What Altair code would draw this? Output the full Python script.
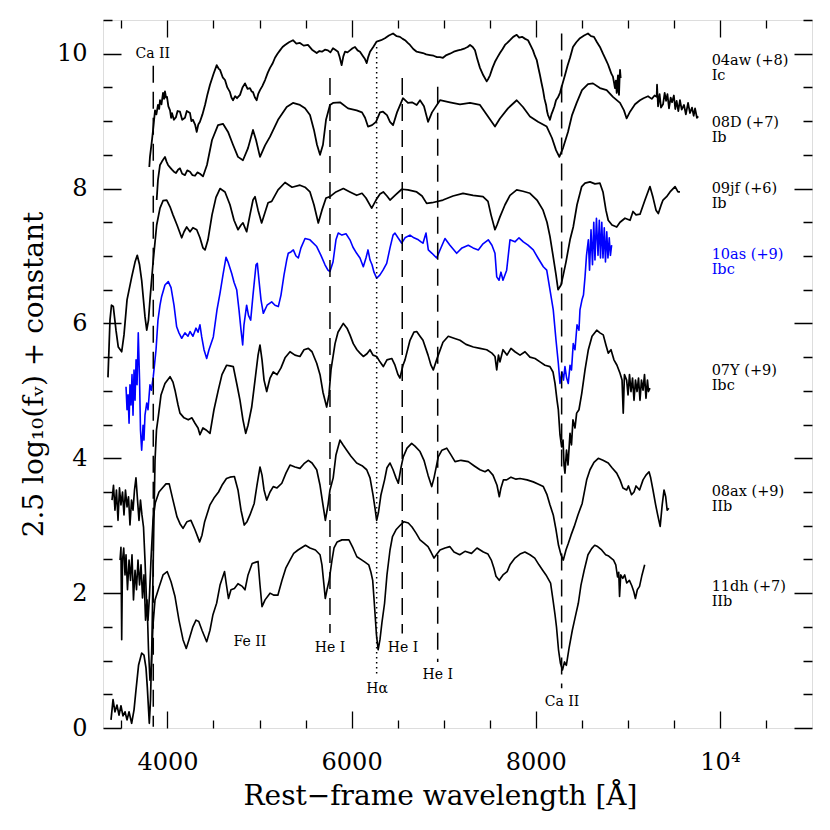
import altair as alt
import pandas as pd

# ---------------- data ----------------
SN04aw = [(3803,8.32),(3810,8.47),(3832,8.72),(3850,8.95),(3865,9.16),(3880,9.10),(3897,9.24),(3910,9.18),(3919,9.31),(3935,9.25),(3952,9.42),(3963,9.33),(3973,9.44),(3985,9.35),(3995,9.36),(4010,9.22),(4028,9.16),(4040,9.05),(4049,9.12),(4070,9.02),(4093,9.06),(4110,9.15),(4136,9.14),(4160,9.02),(4190,9.05),(4210,9.15),(4245,9.12),(4260,9.00),(4277,9.02),(4300,8.95),(4318,8.84),(4335,8.95),(4353,8.99),(4380,9.10),(4408,9.24),(4435,9.40),(4462,9.54),(4500,9.70),(4535,9.83),(4555,9.78),(4571,9.76),(4600,9.65),(4625,9.61),(4650,9.50),(4679,9.43),(4695,9.35),(4712,9.31),(4735,9.37),(4755,9.34),(4788,9.39),(4815,9.50),(4842,9.56),(4870,9.48),(4896,9.49),(4915,9.44),(4929,9.43),(4950,9.35),(4969,9.31),(4985,9.40),(5005,9.46),(5030,9.52),(5060,9.61),(5090,9.72),(5114,9.79),(5140,9.85),(5168,9.94),(5195,10.00),(5222,10.05),(5250,10.10),(5277,10.13),(5320,10.17),(5363,10.20),(5400,10.15),(5439,10.16),(5480,10.12),(5526,10.13),(5570,10.06),(5621,10.01),(5650,10.04),(5678,10.03),(5710,10.06),(5743,10.05),(5770,10.02),(5798,10.08),(5830,10.05),(5852,10.03),(5870,9.95),(5892,9.83),(5910,9.96),(5928,10.03),(5955,10.02),(5982,10.05),(6010,10.08),(6037,10.10),(6065,10.05),(6091,10.03),(6120,9.97),(6145,9.92),(6164,9.86),(6180,9.95),(6200,10.03),(6235,10.10),(6272,10.18),(6320,10.20),(6362,10.23),(6405,10.27),(6450,10.30),(6490,10.26),(6525,10.25),(6555,10.22),(6580,10.20),(6610,10.16),(6634,10.13),(6670,10.07),(6707,10.03),(6740,10.02),(6775,10.01),(6810,9.99),(6851,9.98),(6890,9.97),(6927,9.95),(6960,9.95),(6992,9.94),(7030,9.98),(7068,10.00),(7110,10.03),(7155,10.05),(7190,10.06),(7231,10.08),(7260,10.10),(7286,10.13),(7315,10.10),(7340,10.05),(7365,9.92),(7394,9.79),(7430,9.68),(7467,9.59),(7485,9.63),(7503,9.68),(7530,9.79),(7557,9.88),(7585,9.95),(7611,10.01),(7640,10.07),(7666,10.13),(7690,10.16),(7720,10.20),(7755,10.25),(7793,10.28),(7820,10.24),(7851,10.25),(7885,10.22),(7916,10.20),(7945,10.12),(7970,10.05),(7990,9.97),(8010,9.91),(8030,9.78),(8046,9.68),(8062,9.57),(8079,9.46),(8095,9.33),(8112,9.24),(8122,9.15),(8133,9.09),(8145,9.05),(8154,9.02),(8170,9.10),(8187,9.16),(8203,9.22),(8220,9.31),(8240,9.35),(8263,9.42),(8290,9.55),(8317,9.68),(8345,9.82),(8372,9.94),(8390,10.03),(8404,10.10),(8440,10.17),(8480,10.23),(8525,10.27),(8567,10.30),(8600,10.26),(8632,10.25),(8665,10.17),(8697,10.10),(8730,10.00),(8762,9.91),(8785,9.84),(8806,9.76),(8822,9.70),(8838,9.66),(8850,9.57),(8860,9.49),(8870,9.60),(8879,9.42),(8887,9.58),(8893,9.68),(8899,9.45),(8904,9.39),(8910,9.62),(8915,9.76),(8922,9.64)]

SN08D = [(3883,7.83),(3897,8.13),(3919,8.35),(3940,8.40),(3973,8.47),(3990,8.40),(4006,8.35),(4030,8.31),(4049,8.28),(4070,8.25),(4093,8.23),(4115,8.28),(4136,8.30),(4160,8.22),(4190,8.20),(4215,8.27),(4245,8.25),(4270,8.20),(4299,8.19),(4325,8.24),(4353,8.22),(4386,8.18),(4429,8.35),(4484,8.72),(4549,8.94),(4603,8.96),(4658,8.84),(4712,8.65),(4766,8.47),(4820,8.42),(4875,8.60),(4929,8.87),(4962,8.72),(5005,8.47),(5060,8.64),(5114,8.77),(5201,9.02),(5295,9.21),(5363,9.27),(5439,9.24),(5494,9.19),(5548,9.09),(5591,8.87),(5624,8.65),(5657,8.50),(5689,8.65),(5722,9.02),(5765,9.24),(5798,9.27),(5874,9.28),(5961,9.19),(6055,9.16),(6113,9.13),(6146,9.05),(6178,8.92),(6222,8.94),(6265,8.99),(6308,9.13),(6341,9.14),(6384,9.09),(6417,8.99),(6450,8.94),(6493,9.13),(6558,9.34),(6612,9.27),(6656,9.28),(6707,9.24),(6743,9.31),(6786,9.22),(6830,8.99),(6873,9.13),(6960,9.31),(7068,9.28),(7177,9.25),(7286,9.27),(7394,9.24),(7470,9.09),(7557,8.92),(7611,9.04),(7698,9.19),(7793,9.31),(7861,9.21),(7937,9.07),(8024,8.99),(8119,8.92),(8176,8.75),(8220,8.57),(8256,8.47),(8296,8.60),(8350,8.84),(8394,9.09),(8444,9.27),(8502,9.46),(8567,9.55),(8621,9.56),(8697,9.49),(8770,9.46),(8838,9.36),(8915,9.27),(8958,9.16),(8987,9.04),(9024,9.14),(9078,9.25),(9132,9.31),(9170,9.34),(9219,9.37),(9260,9.33),(9290,9.38),(9313,9.36),(9317,9.54),(9328,9.22),(9345,9.40),(9360,9.20),(9382,9.25),(9400,9.42),(9415,9.30),(9430,9.40),(9447,9.19),(9465,9.35),(9480,9.28),(9500,9.38),(9515,9.18),(9530,9.30),(9548,9.15),(9566,9.31),(9585,9.17),(9610,9.24),(9630,9.10),(9654,9.27),(9675,9.12),(9697,9.20),(9715,9.08),(9730,9.19),(9750,9.05),(9765,9.07)]

SN09jf = [(3354,5.20),(3376,6.05),(3392,6.27),(3412,6.25),(3441,5.90),(3466,5.65),(3503,5.58),(3528,5.83),(3561,6.35),(3612,6.69),(3648,6.91),(3672,7.01),(3697,6.87),(3720,6.64),(3756,6.10),(3775,5.90),(3794,6.05),(3810,6.35),(3846,6.94),(3883,7.46),(3919,7.71),(3952,7.82),(3992,7.83),(4028,7.73),(4060,7.61),(4104,7.46),(4155,7.27),(4180,7.36),(4209,7.43),(4245,7.36),(4277,7.42),(4318,7.39),(4353,7.27),(4386,7.12),(4408,7.09),(4440,7.24),(4484,7.61),(4527,7.87),(4571,8.00),(4625,7.95),(4679,7.76),(4723,7.53),(4766,7.39),(4799,7.46),(4820,7.49),(4860,7.36),(4896,7.61),(4929,7.83),(4951,7.88),(4984,7.68),(5023,7.49),(5060,7.65),(5093,7.79),(5132,7.81),(5201,7.98),(5277,8.09),(5353,8.02),(5439,8.05),(5494,8.02),(5548,7.95),(5591,7.76),(5638,7.49),(5678,7.68),(5722,7.86),(5765,7.88),(5830,7.95),(5910,8.00),(5982,7.95),(6055,7.90),(6113,7.93),(6156,7.86),(6218,7.71),(6265,7.83),(6308,7.92),(6344,7.95),(6384,7.89),(6417,7.83),(6471,7.90),(6544,7.99),(6612,7.98),(6707,7.95),(6765,7.89),(6815,7.78),(6873,7.79),(6992,7.83),(7101,7.89),(7210,7.93),(7319,7.90),(7427,7.88),(7481,7.81),(7514,7.61),(7557,7.39),(7579,7.46),(7611,7.58),(7666,7.76),(7720,7.90),(7793,7.98),(7861,7.96),(7937,7.93),(8013,7.83),(8079,7.68),(8122,7.50),(8154,7.29),(8187,7.01),(8220,6.72),(8242,6.50),(8274,6.57),(8299,6.72),(8328,6.91),(8372,7.24),(8407,7.43),(8448,7.76),(8499,8.03),(8535,8.08),(8589,8.10),(8643,8.07),(8697,8.08),(8730,7.95),(8762,7.68),(8787,7.53),(8828,7.46),(8879,7.43),(8915,7.50),(8969,7.56),(9024,7.53),(9056,7.66),(9089,7.61),(9132,7.62),(9186,7.83),(9240,8.03),(9273,7.87),(9306,7.68),(9331,7.63),(9360,7.75),(9382,7.83),(9421,7.88),(9458,7.95),(9513,8.03),(9545,7.95),(9566,7.95)]

SN10as = [(3550,5.06),(3561,4.72),(3572,4.94),(3583,4.52),(3593,5.09),(3604,4.79),(3615,5.24),(3626,4.64),(3637,5.31),(3648,4.86),(3659,5.46),(3670,5.09),(3683,5.86),(3697,5.16),(3707,4.42),(3720,4.12),(3735,4.49),(3745,4.27),(3756,4.64),(3775,4.82),(3789,4.72),(3810,5.09),(3826,5.01),(3846,5.21),(3876,5.61),(3897,6.05),(3919,6.27),(3937,6.40),(3973,6.57),(4009,6.62),(4039,6.53),(4071,6.27),(4100,5.95),(4125,5.86),(4155,5.78),(4190,5.86),(4223,5.81),(4245,5.88),(4277,5.81),(4310,5.93),(4332,5.87),(4353,5.98),(4372,5.80),(4397,5.61),(4426,5.48),(4451,5.61),(4498,5.80),(4538,6.20),(4571,6.45),(4603,6.72),(4636,6.98),(4658,6.91),(4698,6.74),(4723,6.61),(4752,6.50),(4777,6.20),(4799,5.90),(4817,5.68),(4831,5.98),(4860,6.27),(4880,6.12),(4904,6.05),(4929,6.42),(4962,6.87),(4976,6.89),(4994,6.64),(5016,6.35),(5041,6.15),(5082,6.27),(5132,6.32),(5168,6.27),(5204,6.25),(5233,6.42),(5266,6.72),(5295,6.94),(5312,7.04),(5341,7.06),(5367,7.09),(5396,7.00),(5421,6.97),(5450,7.12),(5494,7.26),(5548,7.24),(5621,7.14),(5667,7.01),(5711,6.87),(5743,6.79),(5765,6.77),(5798,6.91),(5830,7.24),(5855,7.34),(5895,7.31),(5939,7.33),(5982,7.24),(6015,7.13),(6055,7.04),(6091,6.97),(6127,6.84),(6156,6.97),(6178,7.09),(6200,6.94),(6222,6.87),(6243,6.76),(6272,6.67),(6308,6.72),(6341,6.79),(6381,6.89),(6417,7.12),(6450,7.31),(6471,7.34),(6504,7.27),(6544,7.19),(6580,7.27),(6634,7.31),(6677,7.27),(6725,7.24),(6754,7.21),(6775,7.19),(6808,7.34),(6833,7.09),(6873,7.04),(6924,6.97),(6960,7.09),(7014,7.26),(7068,7.16),(7141,7.04),(7199,7.12),(7267,7.16),(7319,7.12),(7376,7.09),(7427,7.18),(7484,7.24),(7524,7.16),(7557,7.04),(7576,6.69),(7601,6.64),(7622,6.76),(7644,6.64),(7684,6.79),(7720,7.24),(7774,7.21),(7818,7.27),(7865,7.21),(7916,7.16),(7973,7.09),(8024,6.97),(8082,6.84),(8119,6.79),(8154,6.50),(8190,6.20),(8220,5.75),(8245,5.41),(8263,5.11),(8285,5.28),(8301,5.16),(8317,5.36),(8335,5.19),(8353,5.11),(8372,5.38),(8388,5.31),(8407,5.70),(8426,5.61),(8448,5.98),(8469,5.90),(8480,6.20),(8502,6.35),(8518,6.42),(8535,6.69),(8551,7.01),(8571,7.24),(8584,6.79),(8600,7.39),(8616,6.87),(8630,7.50),(8643,6.94),(8659,7.56),(8676,7.01),(8690,7.53),(8703,6.97),(8717,7.50),(8730,6.97),(8744,7.42),(8757,6.91),(8771,7.36),(8784,6.97),(8798,7.27),(8811,7.01),(8824,7.16)]

SN07Y = [(3387,0.12),(3409,0.42),(3430,0.24),(3452,0.34),(3474,0.19),(3495,0.33),(3517,0.18),(3539,0.24),(3561,0.12),(3583,0.24),(3611,0.07),(3637,0.27),(3658,0.56),(3686,0.93),(3720,1.11),(3745,1.08),(3767,0.89),(3781,0.61),(3803,0.07),(3816,0.42),(3832,1.31),(3849,2.79),(3865,3.97),(3881,4.42),(3901,4.62),(3930,4.94),(3973,5.11),(4028,5.21),(4060,5.13),(4082,5.01),(4115,4.79),(4136,4.67),(4180,4.60),(4226,4.57),(4266,4.60),(4299,4.52),(4332,4.45),(4353,4.35),(4386,4.45),(4419,4.42),(4462,4.37),(4505,4.72),(4552,5.01),(4592,5.24),(4643,5.38),(4679,5.37),(4715,5.36),(4755,5.09),(4788,4.86),(4820,4.57),(4850,4.37),(4875,4.49),(4915,4.76),(4951,5.16),(4984,5.53),(5005,5.68),(5027,5.46),(5049,5.16),(5078,4.99),(5114,5.19),(5149,5.28),(5190,5.24),(5233,5.34),(5277,5.49),(5331,5.58),(5385,5.53),(5439,5.51),(5483,5.61),(5530,5.63),(5570,5.58),(5621,5.41),(5657,5.24),(5689,4.98),(5729,4.76),(5754,4.94),(5776,5.31),(5820,5.70),(5852,5.87),(5910,6.00),(5950,5.93),(5982,5.83),(6018,5.70),(6058,5.61),(6091,5.56),(6127,5.51),(6167,5.55),(6200,5.61),(6232,5.53),(6272,5.51),(6308,5.43),(6344,5.36),(6384,5.46),(6436,5.48),(6471,5.38),(6504,5.24),(6525,5.19),(6558,5.38),(6580,5.46),(6634,5.75),(6677,5.87),(6707,5.88),(6743,5.81),(6775,5.75),(6830,5.53),(6862,5.38),(6887,5.31),(6916,5.43),(6941,5.53),(6992,5.72),(7050,5.81),(7112,5.78),(7177,5.75),(7242,5.69),(7322,5.65),(7394,5.63),(7467,5.61),(7524,5.56),(7557,5.51),(7576,5.31),(7595,5.53),(7611,5.43),(7644,5.61),(7687,5.53),(7731,5.63),(7774,5.58),(7829,5.53),(7883,5.58),(7937,5.50),(7992,5.48),(8046,5.43),(8100,5.38),(8154,5.36),(8187,5.28),(8209,5.11),(8231,4.86),(8245,4.72),(8263,4.35),(8281,4.17),(8296,4.27),(8307,3.90),(8317,3.78),(8334,4.12),(8350,3.90),(8372,4.37),(8388,4.20),(8404,4.57),(8426,4.45),(8444,4.67),(8469,4.72),(8499,4.96),(8535,5.31),(8571,5.61),(8611,5.81),(8662,5.90),(8697,5.86),(8733,5.83),(8762,5.68),(8787,5.56),(8817,5.61),(8849,5.46),(8882,5.38),(8915,5.26),(8937,5.16),(8950,4.67),(8963,5.24),(8987,5.16),(9002,4.94),(9018,5.24),(9034,4.99),(9051,5.19),(9067,4.86),(9083,5.16),(9100,4.99),(9116,5.19),(9132,4.86),(9148,5.16),(9165,5.01),(9181,5.24),(9197,4.89),(9213,5.16),(9224,4.99),(9240,5.04)]

SN08ax = [(3398,3.38),(3414,3.60),(3430,3.23),(3446,3.53),(3463,3.08),(3479,3.56),(3495,3.31),(3512,3.50),(3528,3.16),(3544,3.53),(3561,3.28),(3577,3.43),(3593,3.01),(3610,3.38),(3626,3.23),(3642,3.53),(3658,3.71),(3675,3.38),(3691,3.08),(3707,3.38),(3723,3.16),(3740,2.98),(3756,2.49),(3772,1.90),(3789,1.60),(3805,1.97),(3821,2.49),(3843,3.08),(3868,3.34),(3908,3.50),(3952,3.57),(3984,3.62),(4019,3.62),(4060,3.38),(4104,3.13),(4136,3.03),(4169,2.96),(4212,3.06),(4255,3.08),(4299,2.94),(4349,2.76),(4375,2.86),(4404,3.06),(4462,3.31),(4505,3.41),(4555,3.50),(4592,3.60),(4641,3.70),(4679,3.72),(4727,3.73),(4766,3.53),(4799,3.23),(4834,3.01),(4864,3.06),(4896,3.16),(4942,3.33),(4972,3.60),(5005,3.87),(5027,3.75),(5049,3.53),(5078,3.38),(5114,3.50),(5149,3.58),(5190,3.56),(5242,3.63),(5287,3.78),(5331,3.90),(5385,3.87),(5439,3.85),(5483,3.92),(5530,3.97),(5570,3.93),(5621,3.83),(5657,3.60),(5689,3.31),(5715,3.08),(5744,3.31),(5765,3.53),(5800,3.71),(5830,4.05),(5874,4.27),(5906,4.20),(5947,4.12),(5993,4.03),(6055,3.93),(6113,3.89),(6164,3.83),(6200,3.71),(6232,3.46),(6254,3.26),(6272,3.08),(6292,3.20),(6319,3.46),(6358,3.68),(6384,3.86),(6417,3.93),(6450,3.83),(6482,3.71),(6507,3.63),(6536,3.86),(6561,4.02),(6602,4.15),(6652,4.22),(6688,4.18),(6743,4.10),(6786,3.97),(6830,3.75),(6870,3.58),(6895,3.71),(6941,4.02),(6981,4.12),(7033,4.15),(7079,4.05),(7123,3.95),(7188,3.97),(7267,3.95),(7329,3.89),(7394,3.83),(7449,3.80),(7484,3.83),(7535,3.75),(7579,3.60),(7604,3.43),(7622,3.56),(7649,3.68),(7684,3.68),(7731,3.72),(7785,3.69),(7829,3.70),(7905,3.68),(7973,3.65),(8024,3.62),(8082,3.58),(8122,3.46),(8154,3.31),(8190,3.16),(8220,2.94),(8247,2.71),(8274,2.57),(8299,2.49),(8328,2.64),(8354,2.74),(8383,2.86),(8418,2.99),(8458,3.16),(8504,3.33),(8553,3.68),(8589,3.83),(8632,3.94),(8679,4.00),(8730,3.97),(8787,3.93),(8828,3.86),(8879,3.78),(8915,3.68),(8947,3.56),(8987,3.53),(9007,3.59),(9040,3.46),(9067,3.50),(9089,3.59),(9127,3.53),(9165,3.68),(9197,3.75),(9230,3.80),(9248,3.71),(9273,3.53),(9302,3.31),(9324,3.16),(9351,2.99),(9373,3.31),(9393,3.53),(9411,3.43),(9427,3.23),(9445,3.26)]

SN11dh = [(3485,2.49),(3495,2.68),(3503,1.31),(3512,2.49),(3525,2.67),(3539,2.27),(3550,2.57),(3566,2.05),(3583,2.49),(3599,2.19),(3615,2.57),(3631,1.90),(3648,2.34),(3664,2.05),(3680,2.49),(3697,2.12),(3713,2.42),(3729,1.93),(3745,2.27),(3762,1.60),(3778,1.90),(3794,1.16),(3810,0.71),(3826,0.93),(3843,1.53),(3865,1.90),(3911,2.10),(3952,2.27),(3997,2.32),(4039,2.17),(4082,1.95),(4125,1.60),(4169,1.31),(4204,1.18),(4234,1.31),(4276,1.50),(4310,1.60),(4340,1.58),(4375,1.45),(4426,1.28),(4462,1.45),(4494,1.68),(4534,1.85),(4571,2.12),(4620,2.32),(4641,2.12),(4663,1.92),(4690,2.05),(4727,2.07),(4766,2.14),(4813,2.10),(4842,2.05),(4875,2.27),(4920,2.44),(4962,2.46),(4984,2.47),(5005,2.12),(5027,1.80),(5060,1.90),(5114,2.00),(5157,1.97),(5199,1.97),(5244,2.19),(5285,2.37),(5331,2.49),(5371,2.59),(5418,2.64),(5499,2.71),(5548,2.67),(5607,2.64),(5657,2.57),(5678,2.42),(5700,2.12),(5714,1.92),(5733,2.05),(5756,2.19),(5787,2.49),(5809,2.67),(5843,2.76),(5895,2.79),(5971,2.79),(6015,2.67),(6057,2.54),(6113,2.49),(6145,2.46),(6186,2.42),(6210,2.31),(6229,2.19),(6248,1.82),(6270,1.38),(6288,1.16),(6308,1.31),(6330,1.57),(6358,1.85),(6384,2.27),(6417,2.64),(6444,2.84),(6482,2.94),(6530,3.01),(6569,3.06),(6616,3.04),(6656,2.98),(6700,2.89),(6743,2.79),(6786,2.74),(6830,2.69),(6862,2.61),(6895,2.52),(6927,2.58),(6960,2.64),(7014,2.67),(7066,2.69),(7112,2.61),(7174,2.57),(7231,2.62),(7302,2.59),(7362,2.67),(7431,2.61),(7481,2.58),(7517,2.49),(7546,2.37),(7568,2.25),(7603,2.19),(7644,2.27),(7689,2.32),(7720,2.42),(7774,2.52),(7829,2.58),(7882,2.61),(7937,2.57),(7989,2.52),(8035,2.42),(8075,2.34),(8111,2.27),(8161,2.15),(8187,1.90),(8209,1.68),(8225,1.50),(8247,1.16),(8268,0.96),(8290,0.86),(8312,0.98),(8332,0.93),(8361,1.18),(8397,1.45),(8426,1.63),(8462,1.85),(8491,2.12),(8526,2.34),(8567,2.57),(8607,2.66),(8640,2.71),(8672,2.69),(8716,2.64),(8759,2.57),(8792,2.55),(8845,2.49),(8869,2.42),(8888,2.24),(8901,2.31),(8910,1.95),(8923,2.27),(8945,2.22),(8966,2.27),(8988,2.15),(9017,2.19),(9043,2.11),(9065,2.02),(9082,1.92),(9103,2.05),(9127,2.10),(9154,2.27),(9183,2.42)]

SPECTRA = [("04aw", SN04aw), ("08D", SN08D), ("09jf", SN09jf), ("07Y", SN07Y),
           ("08ax", SN08ax), ("11dh", SN11dh), ("10as", SN10as)]
SN_NAMES = ["04aw", "08D", "09jf", "07Y", "08ax", "11dh", "10as"]
SN_COLORS = ["black", "black", "black", "black", "black", "black", "#0000ff"]
SN_WIDTHS = [1.8, 1.6, 1.3, 1.6, 1.3, 1.3, 1.6]

# right-hand labels
LBL_SN = ["04aw", "08D", "09jf", "10as", "07Y", "08ax", "11dh"]
LBL_TEXT = ["04aw (+8)", "08D (+7)", "09jf (+6)", "10as (+9)", "07Y (+9)", "08ax (+9)", "11dh (+7)"]
LBL_TYPE = ["Ic", "Ib", "Ib", "Ibc", "Ibc", "IIb", "IIb"]
LBL_X = 9910
LBL_Y = [9.84, 8.92, 7.93, 6.95, 5.24, 3.44, 2.03]

# line identifications
LINE_WAVE = [3846, 5765, 6272, 6550, 6935, 8281]
LINE_TOP = [9.82, 9.64, 10.10, 9.64, 9.51, 10.30]
LINE_BOT = [0.02, 1.41, 0.81, 1.40, 0.98, 0.59]
LINE_STYLE = ["dash", "dash", "dot", "dash", "dash", "dash"]

ANN_TEXT = ["Ca II", "Fe II", "He I", "He I", "He I", "Hα", "Ca II"]
ANN_X = [3840, 4896, 5765, 6558, 6935, 6276, 8285]
ANN_Y = [10.0, 1.28, 1.18, 1.18, 0.79, 0.58, 0.38]

X_MAJOR = [4000, 6000, 8000, 10000]
X_MINOR = [3500, 4500, 5000, 5500, 6500, 7000, 7500, 8500, 9000, 9500, 10500]
Y_MAJOR = [0, 2, 4, 6, 8, 10]
Y_MINOR = [0.5, 1, 1.5, 2.5, 3, 3.5, 4.5, 5, 5.5, 6.5, 7, 7.5, 8.5, 9, 9.5, 10.5]

# ---------------- build tables ----------------
rows = []
for name, pts in SPECTRA:
    for i, (w, f) in enumerate(pts):
        rows.append({"sn": name, "wave": w, "flux": f, "i": i})
spec_df = pd.DataFrame(rows)

lines_df = pd.DataFrame({"wave": LINE_WAVE, "y1": LINE_TOP, "y2": LINE_BOT, "style": LINE_STYLE})
ann_df = pd.DataFrame({"wave": ANN_X, "y": ANN_Y, "text": ANN_TEXT})
lbl_df = pd.DataFrame({"sn": LBL_SN, "wave": [LBL_X] * len(LBL_SN), "y": LBL_Y,
                       "text": [a + "\n" + b for a, b in zip(LBL_TEXT, LBL_TYPE)]})

W, H = 709, 708
FONT = "DejaVu Serif"
xscale = alt.Scale(domain=[3300, 11000], nice=False, zero=False)
yscale = alt.Scale(domain=[0, 10.5], nice=False, zero=False)

x_major_axis = alt.Axis(values=X_MAJOR, grid=True, gridDash=[17, H - 34], gridColor="black",
                        gridWidth=1.3, gridOpacity=1, ticks=False, tickSize=0, domain=False,
                        labelFont=FONT, labelFontSize=24, labelColor="black", labelPadding=22,
                        labelExpr="datum.value == 10000 ? '10⁴' : format(datum.value, 'd')",
                        title="Rest−frame wavelength [Å]", titleFont=FONT, titleFontSize=28,
                        titleFontWeight="normal", titleColor="black", titlePadding=8, titleX=337)
x_minor_axis = alt.Axis(values=X_MINOR, grid=True, gridDash=[8, H - 16], gridColor="black",
                        gridWidth=1.3, gridOpacity=1, ticks=False, tickSize=0, domain=False,
                        labels=False, title=None)
y_major_axis = alt.Axis(values=Y_MAJOR, grid=True, gridDash=[18, W - 36], gridColor="black",
                        gridWidth=1.3, gridOpacity=1, ticks=False, tickSize=0, domain=False,
                        labelFont=FONT, labelFontSize=24, labelColor="black", labelPadding=16,
                        title="2.5 log₁₀(fᵥ) + constant", titleFont=FONT, titleFontSize=28,
                        titleFontWeight="normal", titleColor="black", titlePadding=8)
y_minor_axis = alt.Axis(values=Y_MINOR, grid=True, gridDash=[9, W - 18], gridColor="black",
                        gridWidth=1.3, gridOpacity=1, ticks=False, tickSize=0, domain=False,
                        labels=False, title=None)

spectra = alt.Chart(spec_df).mark_line(strokeJoin="round").encode(
    x=alt.X("wave:Q", scale=xscale, axis=x_major_axis),
    y=alt.Y("flux:Q", scale=yscale, axis=y_major_axis),
    color=alt.Color("sn:N", scale=alt.Scale(domain=SN_NAMES, range=SN_COLORS), legend=None),
    strokeWidth=alt.StrokeWidth("sn:N", scale=alt.Scale(domain=SN_NAMES, range=SN_WIDTHS), legend=None),
    detail="sn:N",
    order="i:Q",
)

rules = alt.Chart(lines_df).mark_rule(color="black", strokeWidth=1.5).encode(
    x=alt.X("wave:Q", scale=xscale, axis=x_minor_axis),
    y=alt.Y("y1:Q", scale=yscale, axis=y_minor_axis),
    y2="y2:Q",
    strokeDash=alt.StrokeDash("style:N", scale=alt.Scale(domain=["dash", "dot"],
                                                         range=[[17, 9], [1.5, 3.5]]), legend=None),
)

ann = alt.Chart(ann_df).mark_text(font=FONT, fontSize=14, color="black",
                                  align="center", baseline="middle").encode(
    x=alt.X("wave:Q", scale=xscale, axis=None),
    y=alt.Y("y:Q", scale=yscale, axis=None),
    text="text:N",
)

lbls = alt.Chart(lbl_df).mark_text(font=FONT, fontSize=14.5, align="left", baseline="alphabetic",
                                   lineBreak="\n", lineHeight=15).encode(
    x=alt.X("wave:Q", scale=xscale, axis=None),
    y=alt.Y("y:Q", scale=yscale, axis=None),
    text="text:N",
    color=alt.Color("sn:N", scale=alt.Scale(domain=SN_NAMES, range=SN_COLORS), legend=None),
)

chart = alt.layer(spectra, rules, ann, lbls).resolve_axis(
    x="independent", y="independent"
).properties(
    width=W, height=H,
    autosize=alt.AutoSizeParams(type="none"),
    padding={"left": 95, "top": 12, "right": 10, "bottom": 90},
).configure_view(stroke="black", strokeWidth=2).configure(background="white")

chart.save("out.html", embed_options={"renderer": "svg", "actions": False})
